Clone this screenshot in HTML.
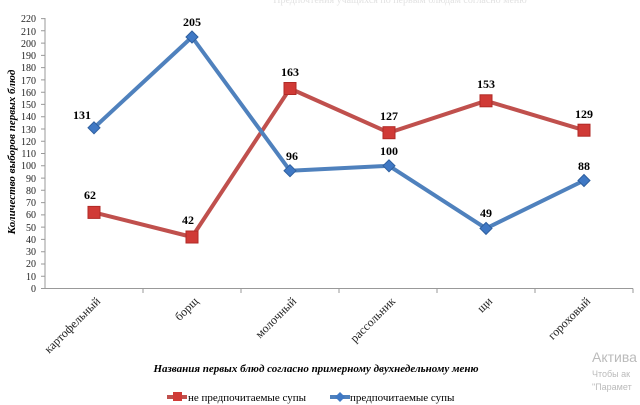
<!DOCTYPE html>
<html><head><meta charset="utf-8"><style>
body{margin:0;background:#fff;}
svg{display:block;font-family:"Liberation Serif",serif;}
</style></head><body>
<svg width="640" height="405" viewBox="0 0 640 405" xmlns="http://www.w3.org/2000/svg">
<rect width="640" height="405" fill="#fff"/>
<text x="400" y="3" font-size="10" fill="#e2e2e2" text-anchor="middle" font-family="Liberation Serif">Предпочтения учащихся по первым блюдам согласно меню</text>
<g font-size="10" fill="#222" text-anchor="end" font-family="Liberation Serif">
<text x="36" y="292">0</text><text x="36" y="280">10</text><text x="36" y="267">20</text><text x="36" y="255">30</text><text x="36" y="243">40</text><text x="36" y="231">50</text><text x="36" y="218">60</text><text x="36" y="206">70</text><text x="36" y="194">80</text><text x="36" y="182">90</text><text x="36" y="169">100</text><text x="36" y="157">110</text><text x="36" y="145">120</text><text x="36" y="133">130</text><text x="36" y="120">140</text><text x="36" y="108">150</text><text x="36" y="96">160</text><text x="36" y="84">170</text><text x="36" y="71">180</text><text x="36" y="59">190</text><text x="36" y="47">200</text><text x="36" y="35">210</text><text x="36" y="22">220</text>
</g>
<g stroke="#999" stroke-width="1">
<line x1="45" y1="18" x2="45" y2="289"/>
<line x1="45" y1="288.5" x2="633" y2="288.5"/>
<path d="M41 288.5H45M41 276.2H45M41 264H45M41 251.7H45M41 239.4H45M41 227.1H45M41 214.9H45M41 202.6H45M41 190.3H45M41 178.1H45M41 165.8H45M41 153.5H45M41 141.3H45M41 129H45M41 116.7H45M41 104.4H45M41 92.2H45M41 79.9H45M41 67.6H45M41 55.4H45M41 43.1H45M41 30.8H45M41 18.6H45"/>
<path d="M143 288.5V293M241 288.5V293M339 288.5V293M437 288.5V293M535 288.5V293M633 288.5V293"/>
</g>
<text transform="translate(15,152) rotate(-90)" font-size="11" font-weight="bold" font-style="italic" text-anchor="middle">Количество выборов первых блюд</text>
<g font-size="12" fill="#222" text-anchor="end" font-family="Liberation Serif">
<text transform="translate(101,302) rotate(-45)">картофельный</text>
<text transform="translate(199,302) rotate(-45)">борщ</text>
<text transform="translate(297,302) rotate(-45)">молочный</text>
<text transform="translate(396,302) rotate(-45)">рассольник</text>
<text transform="translate(493,302) rotate(-45)">щи</text>
<text transform="translate(591,302) rotate(-45)">гороховый</text>
</g>
<text x="316" y="372" font-size="11" font-weight="bold" font-style="italic" text-anchor="middle">Названия первых блюд согласно примерному двухнедельному меню</text>
<polyline points="94,212.4 192,237 290,88.5 389,132.7 486,100.8 584,130.2" fill="none" stroke="#c0504d" stroke-width="4" stroke-linejoin="round"/>
<polyline points="94,127.8 192,37 290,170.7 389,165.8 486,228.4 584,180.5" fill="none" stroke="#4f81bd" stroke-width="4" stroke-linejoin="round"/>
<g fill="#d03a36" stroke="#b02a26" stroke-width="1">
<rect x="88" y="206.4" width="12" height="12"/><rect x="186" y="231" width="12" height="12"/><rect x="284" y="82.5" width="12" height="12"/><rect x="383" y="126.7" width="12" height="12"/><rect x="480" y="94.8" width="12" height="12"/><rect x="578" y="124.2" width="12" height="12"/>
</g>
<g fill="#3f78c4" stroke="#2e5f9e" stroke-width="1">
<path d="M94 121.8l6 6-6 6-6-6z"/><path d="M192 31l6 6-6 6-6-6z"/><path d="M290 164.7l6 6-6 6-6-6z"/><path d="M389 159.8l6 6-6 6-6-6z"/><path d="M486 222.4l6 6-6 6-6-6z"/><path d="M584 174.5l6 6-6 6-6-6z"/>
</g>
<g font-size="12" font-weight="bold" text-anchor="middle">
<text x="90" y="199">62</text><text x="188" y="224">42</text><text x="290" y="76">163</text><text x="389" y="120">127</text><text x="486" y="88">153</text><text x="584" y="118">129</text>
<text x="82" y="119">131</text><text x="192" y="26">205</text><text x="292" y="160">96</text><text x="389" y="155">100</text><text x="486" y="217">49</text><text x="584" y="170">88</text>
</g>
<g font-size="11" font-family="Liberation Serif">
<line x1="167" y1="397" x2="187" y2="397" stroke="#c0504d" stroke-width="4"/>
<rect x="173" y="392" width="9" height="9" fill="#d03a36"/>
<text x="188" y="401">не предпочитаемые супы</text>
<line x1="330" y1="397" x2="350" y2="397" stroke="#4f81bd" stroke-width="4"/>
<path d="M340 392l5 5-5 5-5-5z" fill="#3f78c4"/>
<text x="350" y="401">предпочитаемые супы</text>
</g>
<g font-family="Liberation Sans" fill="#bbb">
<text x="592" y="362" font-size="14">Актива</text>
<text x="592" y="377" font-size="9">Чтобы ак</text>
<text x="592" y="390" font-size="9">"Парамет</text>
</g>
</svg>
</body></html>
